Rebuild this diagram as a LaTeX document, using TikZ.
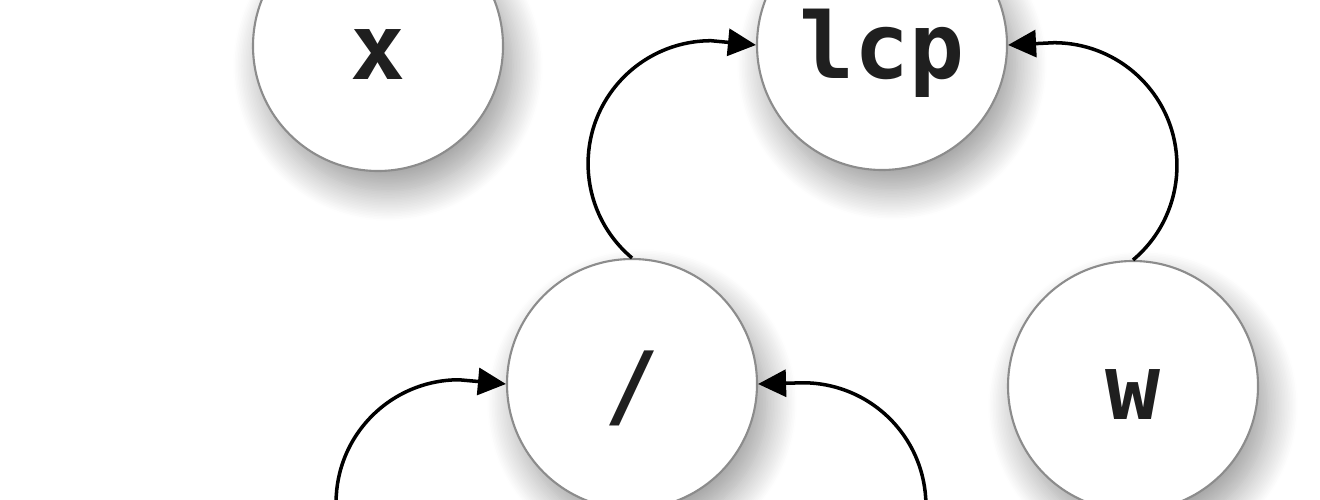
\documentclass[tikz,border=0pt]{standalone}
\usepackage{fontspec}
\setmonofont{DejaVu Sans Mono}
\usetikzlibrary{arrows.meta,shadows.blur}

\tikzset{
  term/.style={circle, draw=black!45, line width=0.6pt, fill=white,
    minimum size=2.5cm, inner sep=0pt, text=black!88,
    text height=19pt, text depth=0pt,
    font=\ttfamily\bfseries\fontsize{26}{30}\selectfont,
    blur shadow={shadow xshift=0.1cm, shadow yshift=-0.2cm,
      shadow blur radius=0.3cm, shadow blur steps=20, shadow opacity=40}},
  link/.style={-{Triangle[length=0.28cm,width=0.27cm]}, line width=1pt}
}

\begin{document}
\begin{tikzpicture}
  \useasboundingbox (0,0) rectangle (13.2,-5);
  \clip (0,0) rectangle (13.2,-5);
  % nodes
  \node[term] (x) at (3.78,-0.46) {x};
  \node[term] (lcp) at (8.82,-0.45) {lcp};
  \node[term] (slash) at (6.32,-3.84) {/};
  \node[term] (w) at (11.33,-3.86) {w};
  % children below the frame
  \coordinate (leftkid) at (3.80,-5.97);
  \coordinate (rightkid) at (8.82,-6.00);
  % arcs
  \draw[link] (slash.north) arc[start angle=230, end angle=90, radius=1.23] -- (lcp.west);
  \draw[link] (w.north) arc[start angle=-50, end angle=90, radius=1.23] -- (lcp.east);
  \draw[link] (leftkid) arc[start angle=230, end angle=90, radius=1.23] -- (slash.west);
  \draw[link] (rightkid) arc[start angle=-50, end angle=90, radius=1.23] -- (slash.east);
\end{tikzpicture}
\end{document}
